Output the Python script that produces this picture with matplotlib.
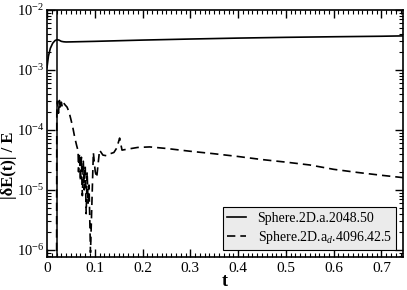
import matplotlib
matplotlib.use("Agg")
import matplotlib.pyplot as plt
from matplotlib.ticker import MultipleLocator, LogLocator, NullFormatter

plt.rcParams["font.family"] = ["Liberation Serif", "DejaVu Serif"]
plt.rcParams["mathtext.fontset"] = "custom"
plt.rcParams["mathtext.rm"] = "Liberation Serif"
plt.rcParams["mathtext.it"] = "Liberation Serif:italic"
plt.rcParams["mathtext.bf"] = "Liberation Serif:bold"

# solid run: Sphere.2D.a.2048.50
t_a = [0.0, 0.003, 0.007, 0.012, 0.017, 0.021, 0.025, 0.03, 0.035, 0.04, 0.05,
       0.1, 0.2, 0.3, 0.4, 0.5, 0.6, 0.7, 0.745]
e_a = [1.1e-3, 1.7e-3, 2.3e-3, 2.8e-3, 3.1e-3, 3.2e-3, 3.15e-3, 3.0e-3, 2.95e-3,
       2.93e-3, 2.94e-3, 3.0e-3, 3.15e-3, 3.28e-3, 3.4e-3, 3.5e-3, 3.58e-3,
       3.65e-3, 3.7e-3]

# dashed run: Sphere.2D.a_d.4096.42.5
t_b = [0.02, 0.0205, 0.022, 0.024, 0.026, 0.028, 0.030, 0.032, 0.035, 0.038,
       0.042, 0.046, 0.050, 0.054, 0.058, 0.062, 0.065, 0.066, 0.068, 0.070,
       0.072, 0.074, 0.076, 0.078, 0.080, 0.082, 0.084, 0.086, 0.088, 0.091,
       0.097, 0.101, 0.104, 0.110, 0.117, 0.125, 0.132, 0.140, 0.146, 0.152,
       0.157, 0.17, 0.19, 0.215, 0.25, 0.3, 0.35, 0.4, 0.45, 0.5, 0.55, 0.6,
       0.65, 0.7, 0.745]
e_b = [1e-7, 2.0e-4, 3.0e-4, 1.9e-4, 3.1e-4, 2.2e-4, 2.9e-4, 2.4e-4, 2.8e-4,
       2.6e-4, 2.4e-4, 2.0e-4, 1.5e-4, 1.1e-4, 7.5e-5, 5.5e-5, 4.5e-5, 2.0e-5,
       4.0e-5, 1.4e-5, 3.5e-5, 8.0e-6, 3.0e-5, 1.0e-5, 2.5e-5, 4.0e-6, 2.0e-5,
       6.0e-6, 1.2e-5, 9.0e-7, 4.2e-5, 2.0e-5, 1.6e-5, 4.6e-5, 3.8e-5, 3.7e-5,
       4.0e-5, 4.2e-5, 5.0e-5, 7.3e-5, 4.6e-5, 4.8e-5, 5.1e-5, 5.2e-5, 4.9e-5,
       4.4e-5, 4.0e-5, 3.6e-5, 3.2e-5, 2.9e-5, 2.6e-5, 2.2e-5, 1.95e-5,
       1.75e-5, 1.6e-5]

t_mark = 0.02

fig = plt.figure(figsize=(4.07, 2.90), dpi=100)
ax = fig.add_axes([0.1155, 0.114, 0.8745, 0.8515])

ax.axvline(t_mark, color="black", lw=1.1)
ax.plot(t_a, e_a, color="black", lw=1.2, label="Sphere.2D.a.2048.50")
ax.plot(t_b, e_b, color="black", lw=1.2, dashes=(5, 3),
        label="Sphere.2D.a$_{d}$.4096.42.5")

ax.set_yscale("log")
ax.set_xlim(0, 0.745)
ax.set_ylim(7.6e-7, 1e-2)

ax.xaxis.set_major_locator(MultipleLocator(0.1))
ax.xaxis.set_minor_locator(MultipleLocator(0.01))
ax.yaxis.set_major_locator(LogLocator(base=10))
ax.yaxis.set_minor_locator(LogLocator(base=10, subs=range(2, 10)))
ax.yaxis.set_minor_formatter(NullFormatter())
ax.xaxis.set_major_formatter(plt.FuncFormatter(lambda v, p: "0" if v == 0 else f"{v:.1f}"))

ax.tick_params(which="both", direction="in", top=True, right=True, labelsize=11)
ax.tick_params(which="major", length=6, width=1)
ax.tick_params(axis="y", which="major", pad=2, labelsize=10.5)
ax.tick_params(which="minor", length=3, width=0.8)
for s in ax.spines.values():
    s.set_linewidth(1.2)

ax.set_xlabel("t", fontsize=13, fontweight="bold", labelpad=-1)
ax.set_ylabel("|δE(t)| / E", fontsize=12, fontweight="bold")
ax.yaxis.set_label_coords(-0.083, 0.37)

leg = ax.legend(loc="lower right", fontsize=10, fancybox=False, framealpha=1,
                facecolor="#ebebeb", edgecolor="black", handlelength=1.4,
                handletextpad=0.8, borderaxespad=0.5, labelspacing=0.3,
                borderpad=0.3)
leg.get_frame().set_linewidth(0.8)

fig.savefig("out.png", dpi=100)
